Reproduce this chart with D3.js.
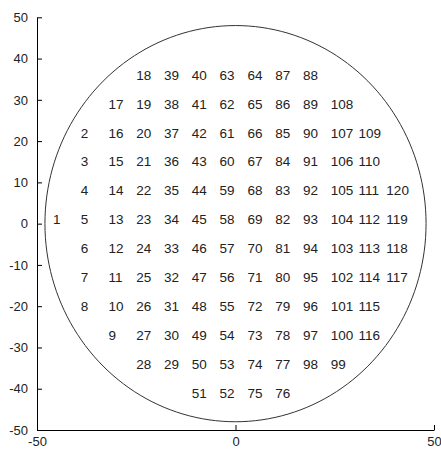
<!DOCTYPE html>
<html>
<head>
<meta charset="utf-8">
<script src="https://cdn.jsdelivr.net/npm/d3@7"></script>
<style>
  html, body { margin: 0; padding: 0; background: #fff; }
  svg text { font-family: "Liberation Sans", Arial, sans-serif; }
</style>
</head>
<body>
<svg id="chart" width="441" height="453"></svg>
<script>
// Wafer die map: die numbers placed on a 7-unit grid inside a 48-unit wafer outline.
const xTicks = [-50, 0, 50];
const yTicks = [-50, -40, -30, -20, -10, 0, 10, 20, 30, 40, 50];
const waferRadius = 48;

// Column x positions (left edge of each label) and row y positions.
const colX = [-46, -39, -32, -25, -18, -11, -4, 3, 10, 17, 24, 31, 38];
const rowY = [36, 29, 22, 15, 8, 1, -6, -13, -20, -27, -34, -41];

// First occupied row of each column, and the die numbers from top to bottom.
const colStartRow = [5, 2, 1, 0, 0, 0, 0, 0, 0, 0, 1, 2, 4];
const colDies = [
  [1],
  [2, 3, 4, 5, 6, 7, 8],
  [17, 16, 15, 14, 13, 12, 11, 10, 9],
  [18, 19, 20, 21, 22, 23, 24, 25, 26, 27, 28],
  [39, 38, 37, 36, 35, 34, 33, 32, 31, 30, 29],
  [40, 41, 42, 43, 44, 45, 46, 47, 48, 49, 50, 51],
  [63, 62, 61, 60, 59, 58, 57, 56, 55, 54, 53, 52],
  [64, 65, 66, 67, 68, 69, 70, 71, 72, 73, 74, 75],
  [87, 86, 85, 84, 83, 82, 81, 80, 79, 78, 77, 76],
  [88, 89, 90, 91, 92, 93, 94, 95, 96, 97, 98],
  [108, 107, 106, 105, 104, 103, 102, 101, 100, 99],
  [109, 110, 111, 112, 113, 114, 115, 116],
  [120, 119, 118, 117]
];

const svg = d3.select("#chart");
const x = d3.scaleLinear().domain([-50, 50]).range([37, 434]);
const y = d3.scaleLinear().domain([-50, 50]).range([430, 17.3]);

const fmt = d => String(d); // plain hyphen-minus for negatives

// Axes: only left and bottom, ticks pointing inward.
const yAxis = d3.axisLeft(y).tickValues(yTicks).tickFormat(fmt)
  .tickSizeInner(-5).tickSizeOuter(0).tickPadding(9);
const xAxis = d3.axisBottom(x).tickValues(xTicks).tickFormat(fmt)
  .tickSizeInner(-5).tickSizeOuter(0).tickPadding(7);

const gy = svg.append("g").attr("transform", `translate(${x(-50)},0)`).call(yAxis);
const gx = svg.append("g").attr("transform", `translate(0,${y(-50)})`).call(xAxis);

[gx, gy].forEach(g => {
  g.selectAll("path.domain").attr("stroke", "#000").attr("stroke-width", 1);
  g.selectAll(".tick line").attr("stroke", "#000");
  g.selectAll(".tick text").attr("fill", "#222").attr("font-size", 13)
    .attr("font-family", "'Liberation Sans', Arial, sans-serif");
});
gx.selectAll(".tick text").attr("dy", "0.71em");

// Wafer outline
const ang = d3.range(0, 361, 2).map(a => a * Math.PI / 180);
svg.append("path")
  .attr("d", d3.line().x(a => x(waferRadius * Math.cos(a))).y(a => y(waferRadius * Math.sin(a)))(ang))
  .attr("fill", "none")
  .attr("stroke", "#333")
  .attr("stroke-width", 1);

// Die labels
const dies = [];
colDies.forEach((ids, c) => {
  ids.forEach((id, i) => dies.push({ id, col: c, row: colStartRow[c] + i }));
});

svg.append("g").selectAll("text")
  .data(dies)
  .join("text")
  .attr("x", d => x(colX[d.col]))
  .attr("y", d => y(rowY[d.row]))
  .attr("dy", "0.35em")
  .attr("font-size", 13.5)
  .attr("fill", "#222")
  .text(d => d.id);
</script>
</body>
</html>
